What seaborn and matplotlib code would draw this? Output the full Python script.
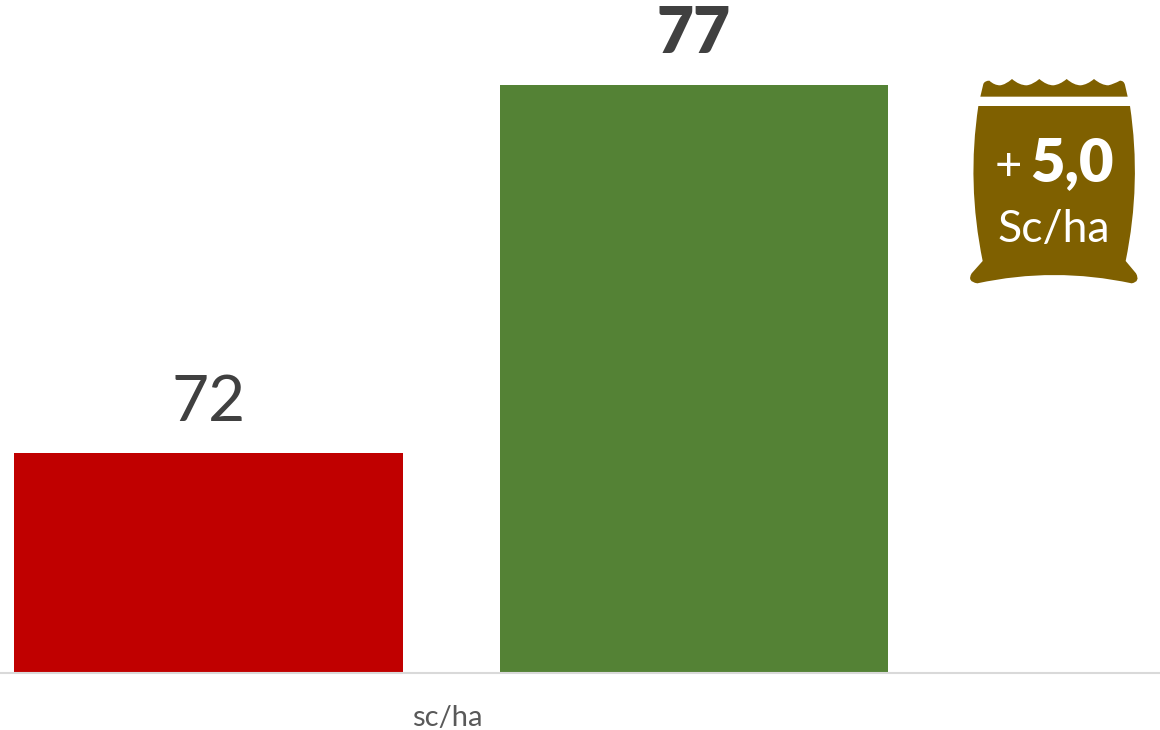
import matplotlib
matplotlib.use("Agg")
import matplotlib.pyplot as plt
import seaborn as sns
import pandas as pd
from matplotlib.path import Path
from matplotlib.patches import PathPatch
from matplotlib.transforms import Affine2D

categories = ["A", "B"]
values = [72, 77]
bar_colors = ["#C00000", "#548235"]
value_labels = ["72", "77"]
unit_label = "sc/ha"

sns.set_theme(style="white")
plt.rcParams["font.family"] = ["Lato", "DejaVu Sans"]

fig = plt.figure(figsize=(11.6, 7.3), dpi=100, facecolor="white")
W, H = 1160, 730
ax = fig.add_axes([0, (H - 673) / H, 1, 673 / H])
df = pd.DataFrame({"cat": categories, "val": values})
sns.barplot(data=df, x="cat", y="val", hue="cat", palette=bar_colors,
            width=0.8, dodge=False, legend=False, ax=ax, saturation=1, linewidth=0)
ax.set_xlim(-0.4295, 1.96)
ax.set_ylim(69.01, 78.15)
ax.set_xlabel(""); ax.set_ylabel("")
ax.set_yticks([])
ax.set_xticks([0.491])
ax.set_xticklabels([unit_label], color="#595959", fontsize=21)
ax.tick_params(axis="x", length=0, pad=23)
for s in ["top", "left", "right"]:
    ax.spines[s].set_visible(False)
ax.spines["bottom"].set_color("#D9D9D9")
ax.spines["bottom"].set_linewidth(1.5)

for i, (v, lab) in enumerate(zip(values, value_labels)):
    ax.annotate(lab, (i, v), xytext=(0, 15), textcoords="offset points",
                ha="center", va="bottom", fontsize=46, color="#404040",
                fontweight="heavy" if i == 1 else "normal", annotation_clip=False)

# Sack icon, outline in zoom-crop units mapped onto figure pixels
to_px = Affine2D().scale(1 / 3, -1 / 3).translate(950, H - 60)
M, L, C3, Z = Path.MOVETO, Path.LINETO, Path.CURVE3, Path.CLOSEPOLY
top = [(M, (91, 110)), (L, (100, 72)), (C3, (104, 62)), (L, (118, 62)),
       (C3, (133, 76)), (L, (150, 76)), (C3, (167, 74)), (L, (186, 57)),
       (C3, (208, 76)), (L, (230, 76)), (C3, (248, 74)), (L, (268, 57)),
       (C3, (290, 76)), (L, (310, 76)), (C3, (330, 74)), (L, (350, 57)),
       (C3, (372, 76)), (L, (392, 76)), (C3, (412, 74)), (L, (432, 57)),
       (C3, (455, 76)), (L, (475, 76)), (C3, (492, 72)), (L, (510, 62)),
       (C3, (522, 62)), (L, (525, 75)), (L, (533, 110)), (Z, (91, 110))]
body = [(M, (85, 138)), (L, (540, 138)),
        (C3, (575, 370)), (L, (527, 603)),
        (L, (558, 640)), (C3, (572, 665)), (L, (545, 670)),
        (C3, (312, 620)), (L, (82, 670)),
        (C3, (50, 665)), (L, (65, 640)),
        (L, (98, 603)),
        (C3, (50, 370)), (L, (85, 138)), (Z, (85, 138))]
# Expand the curve steps: each C3 vertex is the control point, its next L the end
def build(seq):
    verts, codes = [], []
    i = 0
    while i < len(seq):
        c, p = seq[i]
        if c == C3:
            verts += [p, seq[i + 1][1]]; codes += [C3, C3]; i += 2
        else:
            verts.append(p); codes.append(c); i += 1
    return verts, codes
v1, c1 = build(top); v2, c2 = build(body)
sack = PathPatch(Path(v1 + v2, c1 + c2), facecolor="#7F6000", edgecolor="none",
                 transform=to_px, zorder=3)
fig.add_artist(sack)

fig.text(1008 / W, 1 - 167 / H, "+", color="white", fontsize=34, ha="center", va="center", zorder=4)
fig.text(1072 / W, 1 - 164 / H, "5,0", color="white", fontsize=43, fontweight="heavy",
         ha="center", va="center", zorder=4)
fig.text(1054 / W, 1 - 229 / H, "Sc/ha", color="white", fontsize=32, ha="center", va="center", zorder=4)

fig.savefig("out.png", dpi=100, facecolor="white")
